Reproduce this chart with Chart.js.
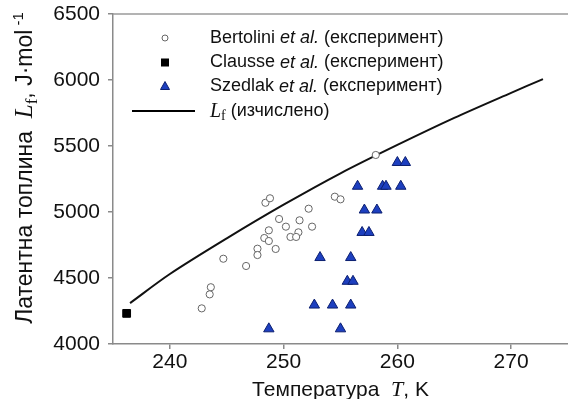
<!DOCTYPE html>
<html>
<head>
<meta charset="utf-8">
<script src="https://cdn.jsdelivr.net/npm/chart.js@4.4.1/dist/chart.umd.min.js"></script>
<style>
  body { margin: 0; background: #fff; }
  #wrap { width: 568px; height: 399px; position: relative; }
</style>
</head>
<body>
<div id="wrap"><canvas id="chart"></canvas></div>
<script>
/* ------------------------- */
/* DATA                      */
/* ------------------------- */
// Bertolini et al. (експеримент)
const bertoliniT = [248.4, 248.8, 249.6, 252.2, 254.5, 255.0, 251.4, 250.2, 248.7, 252.5, 251.3, 250.6,
                    251.1, 248.3, 248.7, 249.3, 247.7, 247.7, 244.7, 246.7, 243.6, 243.5, 242.8, 258.1];
const bertoliniL = [5070, 5104, 4947, 5025, 5116, 5096, 4937, 4889, 4861, 4889, 4846, 4811,
                    4811, 4803, 4780, 4720, 4722, 4674, 4646, 4591, 4430, 4376, 4270, 5432];

// Clausse et al. (експеримент)
const clausseT = [236.2];
const clausseL = [4232];

// Szedlak et al. (експеримент)
const szedlakT = [248.7, 255.0, 252.7, 254.3, 255.9, 255.6, 256.1, 253.2, 255.9, 256.9,
                  257.5, 257.1, 258.2, 256.5, 258.7, 259.0, 260.3, 260.0, 260.7];
const szedlakL = [4115, 4115, 4295, 4295, 4295, 4475, 4475, 4655, 4655, 4845,
                  4845, 5015, 5015, 5195, 5195, 5195, 5195, 5375, 5375];

// L_f (изчислено)
const calcT = [236.5, 240, 245, 250, 255, 260, 265, 270, 272.8];
const calcL = [4310, 4530, 4800, 5055, 5293, 5508, 5713, 5903, 6007];

const xTicks = [240, 250, 260, 270];
const yTicks = [4000, 4500, 5000, 5500, 6000, 6500];

const SANS = '"Liberation Sans", Arial, sans-serif';
const SERIF = '"Liberation Serif", "Times New Roman", serif';
const BLUE = '#1d3fbf';
const BLUE_EDGE = '#0c1f70';

function toPoints(xs, ys) {
  return xs.map((x, i) => ({ x: x, y: ys[i] }));
}

/* ------------------------- */
/* RICH TEXT HELPERS         */
/* ------------------------- */
function richWidth(ctx, segs) {
  let w = 0;
  segs.forEach(s => { ctx.font = s.font; w += ctx.measureText(s.t).width; });
  return w;
}

function drawRich(ctx, segs, x, y) {
  segs.forEach(s => {
    ctx.font = s.font;
    ctx.fillText(s.t, x, y + (s.dy || 0));
    x += ctx.measureText(s.t).width;
  });
}

/* ------------------------- */
/* LEGEND, TITLES, FRAME     */
/* ------------------------- */
const decorations = {
  id: 'decorations',
  afterDraw(chart) {
    const ctx = chart.ctx;
    const a = chart.chartArea;
    ctx.save();

    // top frame line
    ctx.strokeStyle = '#9a9a9a';
    ctx.lineWidth = 1.5;
    ctx.beginPath();
    ctx.moveTo(a.left, a.top);
    ctx.lineTo(chart.width, a.top);
    ctx.stroke();

    ctx.fillStyle = '#111';
    ctx.textBaseline = 'middle';
    ctx.textAlign = 'left';

    // legend
    const mx = a.left + 52;
    const tx = a.left + 97;
    const rows = [a.top + 24, a.top + 48.5, a.top + 72.5, a.top + 97];
    const txt = f => f + 'px ' + SANS;

    ctx.beginPath();
    ctx.arc(mx, rows[0], 3, 0, Math.PI * 2);
    ctx.fillStyle = '#fff';
    ctx.fill();
    ctx.strokeStyle = '#666';
    ctx.lineWidth = 1;
    ctx.stroke();

    ctx.fillStyle = '#000';
    ctx.fillRect(mx - 4, rows[1] - 4, 8, 8);

    ctx.beginPath();
    ctx.moveTo(mx, rows[2] - 5);
    ctx.lineTo(mx + 4.5, rows[2] + 3);
    ctx.lineTo(mx - 4.5, rows[2] + 3);
    ctx.closePath();
    ctx.fillStyle = BLUE;
    ctx.fill();
    ctx.strokeStyle = BLUE_EDGE;
    ctx.stroke();

    ctx.strokeStyle = '#000';
    ctx.lineWidth = 2;
    ctx.beginPath();
    ctx.moveTo(a.left + 19, rows[3]);
    ctx.lineTo(a.left + 82, rows[3]);
    ctx.stroke();

    ctx.fillStyle = '#111';
    const names = ['Bertolini ', 'Clausse ', 'Szedlak '];
    names.forEach((n, i) => {
      drawRich(ctx, [
        { t: n, font: txt(18) },
        { t: 'et al.', font: 'italic 18px ' + SANS },
        { t: ' (експеримент)', font: txt(18) }
      ], tx, rows[i]);
    });
    drawRich(ctx, [
      { t: 'L', font: 'italic 20px ' + SERIF, dy: 1 },
      { t: 'f', font: '14px ' + SERIF, dy: 5 },
      { t: ' (изчислено)', font: txt(18) }
    ], tx, rows[3]);

    // x axis title
    ctx.textBaseline = 'alphabetic';
    const xt = [
      { t: 'Температура  ', font: txt(21) },
      { t: 'T', font: 'italic 22px ' + SERIF },
      { t: ', K', font: txt(21) }
    ];
    const xw = richWidth(ctx, xt);
    drawRich(ctx, xt, (a.left + a.right) / 2 - xw / 2, 396);

    // y axis title
    const yt = [
      { t: 'Латентна топлина  ', font: txt(23) },
      { t: 'L', font: 'italic 25px ' + SERIF },
      { t: 'f', font: '17px ' + SERIF, dy: 5 },
      { t: ', J·mol', font: txt(23) },
      { t: ' -1', font: txt(15), dy: -9 }
    ];
    const yw = richWidth(ctx, yt);
    ctx.translate(32, 168);
    ctx.rotate(-Math.PI / 2);
    drawRich(ctx, yt, -yw / 2, 0);

    ctx.restore();
  }
};

/* ------------------------- */
/* CHART                     */
/* ------------------------- */
new Chart(document.getElementById('chart'), {
  type: 'scatter',
  data: {
    datasets: [
      {
        label: 'Bertolini et al. (експеримент)',
        data: toPoints(bertoliniT, bertoliniL),
        pointStyle: 'circle',
        pointRadius: 3.6,
        pointBackgroundColor: '#fff',
        pointBorderColor: '#666',
        pointBorderWidth: 1
      },
      {
        label: 'Clausse et al. (експеримент)',
        data: toPoints(clausseT, clausseL),
        pointStyle: 'rect',
        pointRadius: 5.5,
        pointBackgroundColor: '#000',
        pointBorderColor: '#000',
        pointBorderWidth: 1
      },
      {
        label: 'Szedlak et al. (експеримент)',
        data: toPoints(szedlakT, szedlakL),
        pointStyle: 'triangle',
        pointRadius: 6,
        pointBackgroundColor: BLUE,
        pointBorderColor: BLUE_EDGE,
        pointBorderWidth: 1
      },
      {
        label: 'Lf (изчислено)',
        data: toPoints(calcT, calcL),
        showLine: true,
        borderColor: '#111',
        borderWidth: 2,
        pointRadius: 0,
        tension: 0.3,
        fill: false
      }
    ]
  },
  options: {
    responsive: true,
    maintainAspectRatio: false,
    animation: false,
    layout: { autoPadding: false, padding: { top: 14, right: 0, bottom: 0, left: 0 } },
    plugins: {
      legend: { display: false },
      tooltip: { enabled: false }
    },
    scales: {
      x: {
        type: 'linear',
        min: 235,
        max: 275,
        afterBuildTicks: s => { s.ticks = xTicks.map(v => ({ value: v })); },
        afterFit: s => { s.height = 55; s.paddingLeft = 0; s.paddingRight = 0; },
        ticks: {
          font: { family: SANS, size: 21 }, color: '#111', padding: 1, maxRotation: 0,
          callback: v => String(v)
        },
        grid: { drawOnChartArea: false, drawTicks: true, tickLength: 5, color: '#8a8a8a', lineWidth: 1.5 },
        border: { color: '#8a8a8a', width: 1.5 }
      },
      y: {
        type: 'linear',
        min: 4000,
        max: 6500,
        afterBuildTicks: s => { s.ticks = yTicks.map(v => ({ value: v })); },
        afterFit: s => { s.width = 113; s.paddingTop = 0; s.paddingBottom = 0; },
        ticks: {
          font: { family: SANS, size: 21 }, color: '#111', padding: 8,
          callback: v => String(v)
        },
        grid: { drawOnChartArea: false, drawTicks: true, tickLength: 5, color: '#8a8a8a', lineWidth: 1.5 },
        border: { color: '#8a8a8a', width: 1.5 }
      }
    }
  },
  plugins: [decorations]
});
</script>
</body>
</html>
